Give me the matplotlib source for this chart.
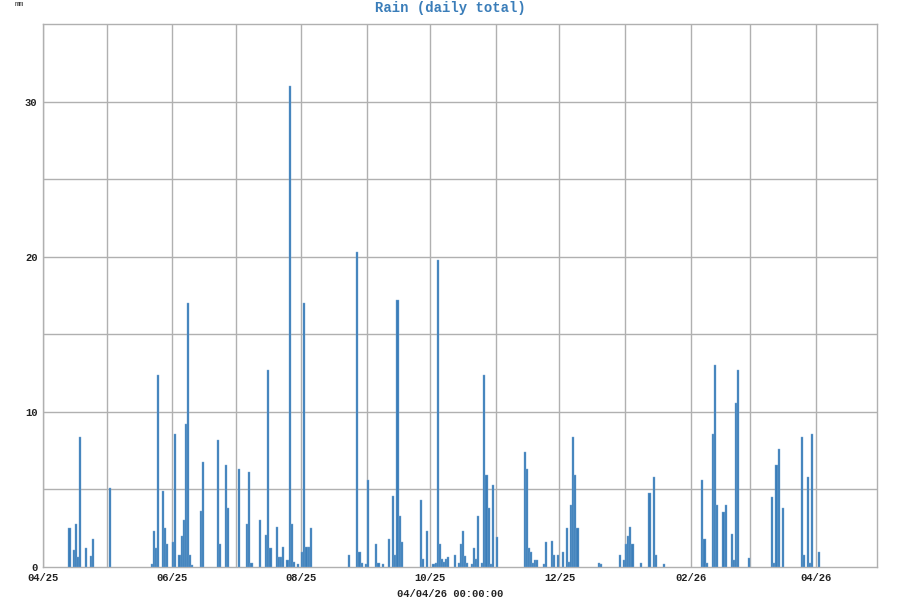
import numpy as np
import pandas as pd
import matplotlib
matplotlib.use("Agg")
import matplotlib.pyplot as plt

# daily rain totals (mm), only days with rain
dates = [
    "2025-04-13", "2025-04-15", "2025-04-16", "2025-04-17", "2025-04-18", "2025-04-21",
    "2025-04-23", "2025-04-24", "2025-05-02", "2025-05-22", "2025-05-23", "2025-05-24",
    "2025-05-25", "2025-05-27", "2025-05-28", "2025-05-29", "2025-06-01", "2025-06-02",
    "2025-06-04", "2025-06-05", "2025-06-06", "2025-06-07", "2025-06-08", "2025-06-09",
    "2025-06-10", "2025-06-14", "2025-06-15", "2025-06-22", "2025-06-23", "2025-06-26",
    "2025-06-27", "2025-07-02", "2025-07-06", "2025-07-07", "2025-07-08", "2025-07-12",
    "2025-07-15", "2025-07-16", "2025-07-17", "2025-07-20", "2025-07-21", "2025-07-22",
    "2025-07-23", "2025-07-25", "2025-07-26", "2025-07-27", "2025-07-28", "2025-07-30",
    "2025-08-01", "2025-08-02", "2025-08-03", "2025-08-04", "2025-08-05", "2025-08-23",
    "2025-08-27", "2025-08-28", "2025-08-29", "2025-08-31", "2025-09-01", "2025-09-05",
    "2025-09-06", "2025-09-08", "2025-09-11", "2025-09-13", "2025-09-14", "2025-09-15",
    "2025-09-16", "2025-09-17", "2025-09-26", "2025-09-27", "2025-09-29", "2025-10-02",
    "2025-10-03", "2025-10-04", "2025-10-05", "2025-10-06", "2025-10-07", "2025-10-08",
    "2025-10-09", "2025-10-12", "2025-10-14", "2025-10-15", "2025-10-16", "2025-10-17",
    "2025-10-18", "2025-10-20", "2025-10-21", "2025-10-22", "2025-10-23", "2025-10-25",
    "2025-10-26", "2025-10-27", "2025-10-28", "2025-10-29", "2025-10-30", "2025-11-01",
    "2025-11-14", "2025-11-15", "2025-11-16", "2025-11-17", "2025-11-18", "2025-11-19",
    "2025-11-20", "2025-11-23", "2025-11-24", "2025-11-27", "2025-11-28", "2025-11-30",
    "2025-12-02", "2025-12-04", "2025-12-05", "2025-12-06", "2025-12-07", "2025-12-08",
    "2025-12-09", "2025-12-19", "2025-12-20", "2025-12-29", "2025-12-31", "2026-01-01",
    "2026-01-02", "2026-01-03", "2026-01-04", "2026-01-08", "2026-01-12", "2026-01-14",
    "2026-01-15", "2026-01-19", "2026-02-06", "2026-02-07", "2026-02-08", "2026-02-11",
    "2026-02-12", "2026-02-13", "2026-02-16", "2026-02-17", "2026-02-20", "2026-02-21",
    "2026-02-22", "2026-02-23", "2026-02-28", "2026-03-11", "2026-03-12", "2026-03-13",
    "2026-03-14", "2026-03-16", "2026-03-25", "2026-03-26", "2026-03-28", "2026-03-29",
    "2026-03-30", "2026-04-02",
]
rain = [
    2.5, 1.1, 2.8, 0.65, 8.4, 1.25,
    0.7, 1.8, 5.1, 0.17, 2.3, 1.25,
    12.4, 4.9, 2.5, 1.5, 1.6, 8.6,
    0.8, 2.0, 3.0, 9.2, 17.0, 0.8,
    0.15, 3.6, 6.8, 8.2, 1.5, 6.6,
    3.8, 6.3, 2.8, 6.1, 0.28, 3.0,
    2.05, 12.7, 1.2, 2.6, 0.65, 0.65,
    1.3, 0.47, 31.0, 2.8, 0.3, 0.17,
    0.97, 17.0, 1.3, 1.3, 2.5, 0.8,
    20.3, 0.97, 0.28, 0.17, 5.6, 1.5,
    0.28, 0.17, 1.8, 4.6, 0.8, 17.2,
    3.3, 1.6, 4.3, 0.5, 2.3, 0.17,
    0.28, 19.8, 1.5, 0.5, 0.32, 0.5,
    0.65, 0.8, 0.28, 1.5, 2.3, 0.7,
    0.28, 0.17, 1.25, 0.5, 3.3, 0.28,
    12.4, 5.9, 3.8, 0.17, 5.3, 1.95,
    7.4, 6.3, 1.25, 0.97, 0.28, 0.47,
    0.47, 0.17, 1.6, 1.7, 0.8, 0.8,
    0.97, 2.5, 0.32, 4.0, 8.4, 5.9,
    2.5, 0.28, 0.17, 0.8, 0.43, 1.5,
    2.0, 2.6, 1.5, 0.28, 4.8, 5.8,
    0.8, 0.17, 5.6, 1.8, 0.28, 8.6,
    13.0, 4.0, 3.55, 4.0, 2.1, 0.47,
    10.6, 12.7, 0.55, 4.5, 0.28, 6.6,
    7.6, 3.8, 8.4, 0.8, 5.8, 0.28,
    8.6, 0.97,
]

x_start = "2025-04-01"
x_end = "2026-04-30"
tick_dates = ["2025-04-01", "2025-06-01", "2025-08-01", "2025-10-01",
              "2025-12-01", "2026-02-01", "2026-04-01"]
tick_labels = ["04/25", "06/25", "08/25", "10/25", "12/25", "02/26", "04/26"]
grid_dates = pd.date_range("2025-04-01", "2026-04-01", freq="MS")

BAR = "#3a7db9"
GRID = "#b0b0b0"
MONO = ["Liberation Mono", "DejaVu Sans Mono"]

plt.rcParams["font.family"] = MONO

fig = plt.figure(figsize=(9, 6), dpi=100)
ax = fig.add_axes([43 / 900, 33 / 600, 834 / 900, 543 / 600])

d = pd.to_datetime(dates)
ax.bar(d, rain, width=1.0, align="edge", color=BAR, edgecolor="#7aa9d4",
       linewidth=0.3, zorder=3)

ax.set_xlim(pd.Timestamp(x_start), pd.Timestamp(x_end))
ax.set_ylim(0, 35)

# grid: month starts and every 5 mm
for g in grid_dates:
    ax.axvline(g, color=GRID, lw=1.0, zorder=1)
for yv in np.arange(5, 35, 5):
    ax.axhline(yv, color=GRID, lw=1.0, zorder=1)

ax.set_xticks(pd.to_datetime(tick_dates))
ax.set_xticklabels(tick_labels)
ax.set_yticks([0, 10, 20, 30])
ax.set_yticklabels(["0", "10", "20", "30"])
ax.tick_params(length=0, labelsize=7.6, pad=4, colors="#222222")
for lab in ax.get_xticklabels() + ax.get_yticklabels():
    lab.set_fontweight("bold")

for s in ax.spines.values():
    s.set_color(GRID)
    s.set_linewidth(1.0)

fig.text(0.5, 1 - 8 / 600, "Rain (daily total)", ha="center", va="center",
         color=BAR, fontsize=10, fontweight="bold")
fig.text(15 / 900, 1 - 5 / 600, "mm", ha="left", va="center",
         color="#333333", fontsize=5.5)
fig.text(450 / 900, 1 - 594 / 600, "04/04/26 00:00:00", ha="center",
         va="center", color="#222222", fontsize=7.6, fontweight="bold")

fig.savefig("out.png", dpi=100)
